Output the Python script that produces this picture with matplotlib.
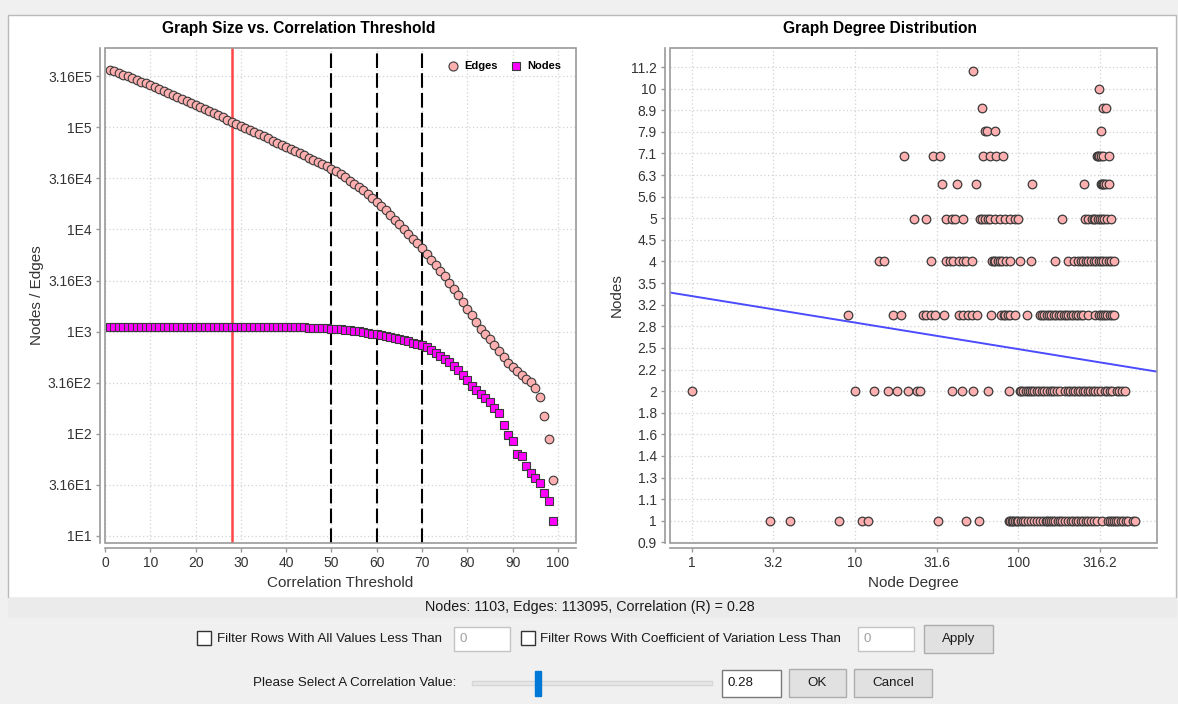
#!/usr/bin/env python3
"""
Graph size vs correlation threshold + degree distribution (dialog screenshot look)
"""

import numpy as np
import matplotlib.pyplot as plt
from matplotlib.patches import Rectangle
from matplotlib.lines import Line2D
from matplotlib.ticker import NullLocator

plt.rcParams['font.family'] = ['Liberation Sans', 'DejaVu Sans']

# ---- left chart data (threshold 1..99) ----
thresholds = list(range(1, 100))
edges = [368000, 354000, 340000, 327000, 315000, 303000, 291000, 280000, 269000, 258000,
         247000, 236000, 225000, 216000, 206000, 197000, 188000, 180000, 172000, 164000,
         158000, 151000, 145000, 137000, 131000, 125000, 119000, 113095, 108000, 103000,
         98500, 94000, 89500, 85500, 81500, 77800, 74000, 70500, 67200, 64300,
         61400, 58600, 55800, 53200, 50600, 48100, 45700, 43700, 41500, 39500,
         37000, 34600, 32300, 30100, 28000, 26000, 24100, 22100, 20300, 18600,
         16900, 15400, 13900, 12500, 11300, 10100, 9100, 8150, 7300, 6520,
         5750, 5070, 4470, 3940, 3470, 3020, 2630, 2270, 1960, 1680,
         1450, 1250, 1070, 938, 838, 738, 649, 568, 495, 453,
         411, 375, 343, 318, 278, 230, 150, 88, 35]
nodes = [1103, 1103, 1103, 1103, 1103, 1103, 1103, 1103, 1103, 1103,
         1103, 1103, 1103, 1103, 1103, 1103, 1103, 1103, 1103, 1103,
         1103, 1103, 1103, 1103, 1103, 1103, 1103, 1103, 1103, 1103,
         1103, 1103, 1103, 1103, 1103, 1103, 1103, 1103, 1103, 1103,
         1103, 1103, 1103, 1103, 1084, 1084, 1084, 1084, 1084, 1072,
         1067, 1059, 1047, 1035, 1023, 1007, 989, 973, 955, 938,
         918, 902, 881, 863, 843, 822, 804, 782, 759, 738,
         710, 659, 611, 575, 535, 501, 457, 420, 375, 335,
         295, 268, 244, 222, 203, 177, 158, 122, 97, 84,
         64, 60, 48, 41, 37, 33, 26, 22, 14]
selected_threshold = 28
cutoff_lines = [50, 60, 70]

left_yticks = [1e1, 10**1.5, 1e2, 10**2.5, 1e3, 10**3.5, 1e4, 10**4.5, 1e5, 10**5.5]
left_ylabels = ['1E1', '3.16E1', '1E2', '3.16E2', '1E3', '3.16E3', '1E4', '3.16E4', '1E5', '3.16E5']
left_xticks = [0, 10, 20, 30, 40, 50, 60, 70, 80, 90, 100]

# ---- right chart data: node degrees found at each node count ----
deg_at_1 = [3, 4, 8, 11, 12, 32, 48, 57, 87, 89, 91, 93, 95, 98, 100, 103, 107, 110, 115,
            119, 124, 129, 135, 142, 147, 149, 153, 158, 163, 168, 174, 180, 186, 193, 202,
            209, 217, 225, 233, 241, 250, 259, 268, 278, 288, 302, 324, 352, 364, 372, 382,
            395, 409, 423, 439, 455, 471, 501, 518]
deg_at_2 = [1, 10, 13, 16, 18, 21, 24, 25, 39, 45, 53, 65, 87, 102, 104, 107, 111, 115,
            118, 121, 125, 129, 134, 139, 144, 149, 155, 160, 166, 172, 180, 193, 200, 207,
            215, 222, 230, 239, 247, 256, 265, 275, 285, 295, 307, 319, 339, 350, 362, 373,
            400, 415, 429, 450]
deg_at_3 = [9, 17, 19, 26, 27, 29, 31, 35, 43, 46, 49, 52, 56, 68, 78, 81, 83, 86, 89, 95,
            113, 136, 140, 144, 149, 153, 158, 164, 170, 176, 182, 189, 196, 202, 210, 217,
            225, 233, 241, 250, 268, 295, 310, 319, 330, 339, 350, 361, 372, 382]
deg_at_4 = [14, 15, 29, 36, 38, 40, 43, 46, 48, 52, 69, 71, 72, 75, 77, 79, 84, 89, 102,
            120, 168, 200, 220, 233, 242, 250, 259, 268, 278, 288, 298, 309, 318, 328, 342,
            356, 369, 382]
deg_at_5 = [23, 27, 36, 39, 41, 46, 58, 60, 62, 65, 67, 72, 77, 83, 89, 95, 100, 184, 256,
            268, 280, 288, 296, 305, 314, 324, 335, 347, 368]
deg_at_6 = [34, 42, 55, 121, 252, 320, 324, 330, 336, 344, 356]
deg_at_7 = [20, 30, 33, 61, 67, 73, 80, 302, 308, 313, 320, 328, 356]
deg_at_8 = [62, 64, 72, 319]
deg_at_9 = [60, 328, 344]
deg_at_10 = [313]
deg_at_11 = [53]

# fitted line in log10-log10 space
fit_intercept = 0.520
fit_slope = -0.0614

right_xticks = [1, 10**0.5, 10, 10**1.5, 100, 10**2.5]
right_xlabels = ['1', '3.2', '10', '31.6', '100', '316.2']
right_ylabels = ['0.9', '1', '1.1', '1.3', '1.4', '1.6', '1.8', '2', '2.2', '2.5', '2.8', '3.2',
                 '3.5', '4', '4.5', '5', '5.6', '6.3', '7.1', '7.9', '8.9', '10', '11.2']

status_text = 'Nodes: 1103, Edges: 113095, Correlation (R) = 0.28'

W, H = 1178, 704
FRAME = '#9A9A9A'
GRID = '#D2D2D2'
PINK = '#FFAFAF'
MARKER_EDGE = '#3A3A3A'
TEXT = '#333333'
UI_TEXT = '#1A1A1A'
UI_SIZE = 9.6

fig = plt.figure(figsize=(W / 100, H / 100), dpi=100, facecolor='#F0F0F0')

# background axes in pixel coordinates for the dialog parts
bg = fig.add_axes([0, 0, 1, 1], zorder=0)
bg.set_xlim(0, W)
bg.set_ylim(H, 0)
bg.axis('off')


def box(x0, y0, x1, y1, fc, ec, lw=1.0):
    bg.add_patch(Rectangle((x0, y0), x1 - x0, y1 - y0, facecolor=fc, edgecolor=ec, linewidth=lw))


def px_axes(left, top, right, bottom):
    return fig.add_axes([left / W, 1 - bottom / H, (right - left) / W, (bottom - top) / H], zorder=2)


def style_axes(ax):
    ax.set_facecolor('white')
    ax.spines['top'].set_visible(False)
    ax.spines['right'].set_visible(False)
    for side in ('left', 'bottom'):
        ax.spines[side].set_position(('outward', 3.5))
        ax.spines[side].set_color(FRAME)
        ax.spines[side].set_linewidth(1.2)
    ax.add_patch(Rectangle((0, 0), 1, 1, transform=ax.transAxes, fill=False,
                           edgecolor=FRAME, linewidth=1.2, zorder=6, clip_on=False))
    ax.tick_params(length=3, width=1, color=FRAME, labelsize=10, pad=3, labelcolor=TEXT)
    ax.xaxis.set_minor_locator(NullLocator())
    ax.yaxis.set_minor_locator(NullLocator())
    ax.grid(True, color=GRID, linestyle=(0, (1, 2)), linewidth=0.9)
    ax.set_axisbelow(True)


# chart panel and status bar
box(8, 15, 1176, 598, 'white', '#B9B9B9')
box(8, 598, 1176, 617, '#EBEBEB', '#EBEBEB')
bg.text(590, 607, status_text, fontsize=10.3, ha='center', va='center', color=UI_TEXT)

# chart titles are centred on each chart panel, not on the plot area
bg.text(299, 28, 'Graph Size vs. Correlation Threshold', fontsize=11.2, fontweight='bold',
        ha='center', va='center', color='black')
bg.text(880, 28, 'Graph Degree Distribution', fontsize=11.2, fontweight='bold',
        ha='center', va='center', color='black')

# ---- left chart ----
ax1 = px_axes(105, 48, 576, 543)
ax1.set_yscale('log')
ax1.set_xlim(0, 104)
ax1.set_ylim(10**0.93, 10**5.777)
ax1.set_xticks(left_xticks)
ax1.set_yticks(left_yticks, left_ylabels)
style_axes(ax1)

ax1.axvline(selected_threshold, color='#FF4646', linewidth=1.8, zorder=3)
for t in cutoff_lines:
    ax1.axvline(t, color='black', linewidth=1.5, linestyle=(0, (7, 2.5)), zorder=3)

ax1.plot(thresholds, nodes, linestyle='none', marker='s', markersize=5.8,
         markerfacecolor='#FF00FF', markeredgecolor=MARKER_EDGE, markeredgewidth=0.8, zorder=4)
ax1.plot(thresholds, edges, linestyle='none', marker='o', markersize=6.2,
         markerfacecolor=PINK, markeredgecolor=MARKER_EDGE, markeredgewidth=0.8, zorder=4)

handles = [
    Line2D([], [], linestyle='none', marker='o', markersize=6.5, markerfacecolor=PINK,
           markeredgecolor=MARKER_EDGE, markeredgewidth=0.8, label='Edges'),
    Line2D([], [], linestyle='none', marker='s', markersize=5.5, markerfacecolor='#FF00FF',
           markeredgecolor=MARKER_EDGE, markeredgewidth=0.8, label='Nodes'),
]
ax1.legend(handles=handles, loc='upper right', ncol=2, frameon=False,
           prop={'size': 8, 'weight': 'bold'}, handletextpad=0.5, columnspacing=1.2,
           handlelength=1.0, borderaxespad=0.5, bbox_to_anchor=(0.99, 0.993))

ax1.set_xlabel('Correlation Threshold', fontsize=11, color=TEXT, labelpad=4)
ax1.set_ylabel('Nodes / Edges', fontsize=11, color=TEXT, labelpad=3)

# ---- right chart ----
ax2 = px_axes(670, 48, 1157, 543)
ax2.set_xscale('log')
ax2.set_yscale('log')
ax2.set_xlim(10**-0.133, 10**2.848)
ax2.set_ylim(10**-0.0514, 10**1.094)
right_yticks = [10**(k / 20) for k in range(-1, 22)]
ax2.set_xticks(right_xticks, right_xlabels)
ax2.set_yticks(right_yticks, right_ylabels)
style_axes(ax2)

rows = [deg_at_1, deg_at_2, deg_at_3, deg_at_4, deg_at_5, deg_at_6,
        deg_at_7, deg_at_8, deg_at_9, deg_at_10, deg_at_11]
for count, degs in enumerate(rows, start=1):
    ax2.plot(degs, [count] * len(degs), linestyle='none', marker='o', markersize=6.2,
             markerfacecolor=PINK, markeredgecolor=MARKER_EDGE, markeredgewidth=0.9, zorder=4)

fx = np.array(ax2.get_xlim())
fy = 10 ** (fit_intercept + fit_slope * np.log10(fx))
ax2.plot(fx, fy, color='#4B4BFF', linewidth=1.4, zorder=3)

ax2.set_xlabel('Node Degree', fontsize=11, color=TEXT, labelpad=4)
ax2.set_ylabel('Nodes', fontsize=11, color=TEXT, labelpad=5)

# ---- dialog controls ----
box(197, 631, 211, 645, 'white', '#333333')
bg.text(217, 639, 'Filter Rows With All Values Less Than', fontsize=UI_SIZE, va='center', color=UI_TEXT)
box(454, 627, 510, 651, 'white', '#C4C4C4')
bg.text(459, 639, '0', fontsize=UI_SIZE, va='center', color='#A0A0A0')

box(521, 631, 535, 645, 'white', '#333333')
bg.text(540, 639, 'Filter Rows With Coefficient of Variation Less Than', fontsize=UI_SIZE,
        va='center', color=UI_TEXT)
box(858, 627, 914, 651, 'white', '#C4C4C4')
bg.text(863, 639, '0', fontsize=UI_SIZE, va='center', color='#A0A0A0')

box(924, 625, 993, 653, '#E1E1E1', '#ADADAD')
bg.text(958.5, 639, 'Apply', fontsize=UI_SIZE, ha='center', va='center', color=UI_TEXT)

bg.text(253, 683, 'Please Select A Correlation Value:', fontsize=UI_SIZE, va='center', color=UI_TEXT)
box(472, 681, 712, 685, '#E7E7E7', '#D6D6D6')
box(535, 671, 541, 696, '#0078D7', '#0078D7')

box(722, 670, 781, 697, 'white', '#7A7A7A')
bg.text(727, 683.5, '0.28', fontsize=UI_SIZE, va='center', color=UI_TEXT)
box(789, 669, 846, 697, '#E1E1E1', '#ADADAD')
bg.text(817.5, 683, 'OK', fontsize=UI_SIZE, ha='center', va='center', color=UI_TEXT)
box(854, 669, 932, 697, '#E1E1E1', '#ADADAD')
bg.text(893, 683, 'Cancel', fontsize=UI_SIZE, ha='center', va='center', color=UI_TEXT)

fig.savefig('out.png', dpi=100, facecolor=fig.get_facecolor())
plt.close(fig)
